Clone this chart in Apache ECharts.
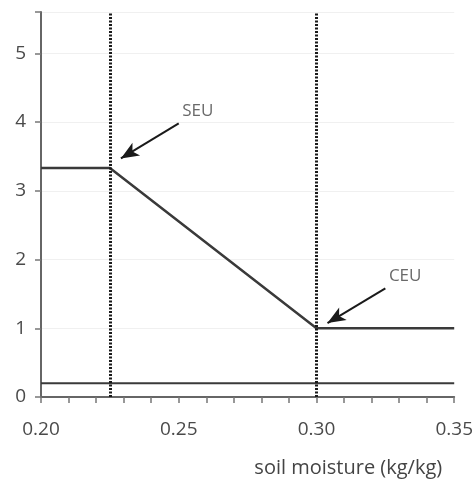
<!DOCTYPE html>
<html><head><meta charset="utf-8">
<script src="https://cdn.jsdelivr.net/npm/echarts@6/dist/echarts.min.js"></script>
<style>html,body{margin:0;padding:0;background:#fff}#c{width:476px;height:480px}</style>
</head><body><div id="c"></div>
<script>
var responseX = [0.20, 0.225, 0.30, 0.35];
var responseY = [3.33, 3.33, 1.0, 1.0];
var baseX = [0.20, 0.35];
var baseY = [0.2, 0.2];
var thresholdX = [0.225, 0.30];
var thresholdNames = ['SEU', 'CEU'];
var labelPos = [[0.2569, 4.16], [0.3322, 1.76]];
var arrowStart = [[0.250, 3.98], [0.325, 1.58]];
var arrowEnd = [[0.229, 3.47], [0.304, 1.076]];
var yTicks = [0, 1, 2, 3, 4, 5];
var yMax = 5.6;

var font = '"Open Sans", "Noto Sans", sans-serif';
var chart = echarts.init(document.getElementById('c'));
chart.setOption({
  animation: false,
  grid: {left: 41, right: 21, top: 12, bottom: 83},
  xAxis: {
    type: 'value', min: 0.20, max: 0.35, interval: 0.05,
    axisLine: {lineStyle: {color: '#666', width: 2}},
    axisTick: {show: true, length: 6, lineStyle: {color: '#777', width: 1.5}},
    minorTick: {show: true, splitNumber: 5, length: 6, lineStyle: {color: '#777', width: 1.5}},
    splitLine: {show: false},
    axisLabel: {color: '#4a4a4a', fontFamily: font, fontSize: 19, margin: 23, formatter: function (v) { return v.toFixed(2); }},
    name: 'soil moisture (kg/kg)', nameLocation: 'end', nameGap: -12,
    nameTextStyle: {color: '#444', fontFamily: font, fontSize: 20, align: 'right', verticalAlign: 'top', padding: [61, 0, 0, 0]}
  },
  yAxis: {
    type: 'value', min: 0, max: yMax, interval: 1,
    axisLine: {show: true, lineStyle: {color: '#666', width: 2}},
    axisTick: {show: true, length: 6, lineStyle: {color: '#777', width: 1.5}},
    splitLine: {show: true, lineStyle: {color: '#f0f0f0', width: 1}},
    axisLabel: {color: '#4a4a4a', fontFamily: font, fontSize: 19, margin: 15,
      formatter: function (v) { return yTicks.indexOf(v) >= 0 ? String(v) : ''; }}
  },
  series: [
    {
      type: 'line', symbol: 'none',
      data: responseX.map(function (x, i) { return [x, responseY[i]]; }),
      lineStyle: {color: '#3a3a3a', width: 2.5},
      markLine: {
        silent: true, symbol: ['none', 'none'], precision: 4,
        label: {show: false},
        lineStyle: {color: '#1a1a1a', width: 3, type: [2, 1.5]},
        data: thresholdX.map(function (x) { return [{coord: [x, 0]}, {coord: [x, yMax]}]; })
      }
    },
    {
      type: 'line', symbol: 'none',
      data: baseX.map(function (x, i) { return [x, baseY[i]]; }),
      lineStyle: {color: '#3a3a3a', width: 2},
      markLine: {
        silent: true, symbol: ['none', 'arrow'], symbolSize: [11, 18],
        label: {show: false},
        lineStyle: {color: '#1a1a1a', width: 2, type: 'solid'},
        data: arrowStart.map(function (s, i) { return [{coord: s}, {coord: arrowEnd[i]}]; })
      }
    },
    {
      type: 'scatter', symbolSize: 0,
      data: labelPos.map(function (p, i) { return {value: p, name: thresholdNames[i]}; }),
      label: {show: true, position: 'inside', formatter: '{b}', color: '#444', fontFamily: font, fontSize: 17}
    }
  ]
});
</script></body></html>
